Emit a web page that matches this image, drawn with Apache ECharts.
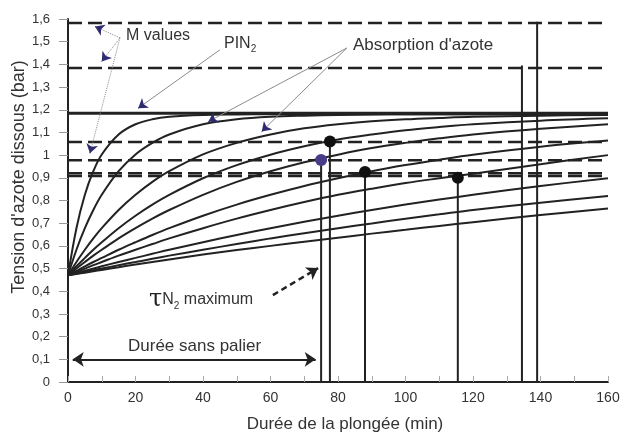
<!DOCTYPE html>
<html>
<head>
<meta charset="utf-8">
<script src="https://cdn.jsdelivr.net/npm/echarts@6/dist/echarts.min.js"></script>
<style>
  html, body { margin: 0; padding: 0; background: #fff; }
  #chart { width: 621px; height: 436px; }
</style>
</head>
<body>
<div id="chart"></div>
<script>
// temps (min) commun a toutes les courbes
const timeGrid = [0, 2.5, 5, 7.5, 10, 15, 20, 25, 30, 40, 50, 60, 70, 80, 90, 100, 110, 120, 140, 160];

// tension d'azote lue sur chaque courbe d'absorption (bar)
const c5   = [0.47, 0.678, 0.825, 0.929, 1.003, 1.091, 1.136, 1.158, 1.169, 1.177, 1.179, 1.18, 1.18, 1.18, 1.18, 1.18, 1.18, 1.18, 1.18, 1.18];
const c10  = [0.47, 0.583, 0.678, 0.758, 0.825, 0.929, 1.003, 1.054, 1.091, 1.136, 1.158, 1.169, 1.174, 1.177, 1.179, 1.18, 1.18, 1.18, 1.18, 1.18];
const c20  = [0.47, 0.529, 0.583, 0.633, 0.678, 0.758, 0.825, 0.882, 0.929, 1.003, 1.054, 1.091, 1.118, 1.136, 1.149, 1.158, 1.164, 1.169, 1.174, 1.177];
const c30  = [0.47, 0.510, 0.547, 0.583, 0.616, 0.678, 0.733, 0.782, 0.825, 0.898, 0.956, 1.002, 1.039, 1.069, 1.091, 1.110, 1.124, 1.136, 1.152, 1.162];
const c40  = [0.47, 0.500, 0.529, 0.557, 0.583, 0.633, 0.678, 0.720, 0.758, 0.825, 0.882, 0.929, 0.969, 1.002, 1.031, 1.054, 1.074, 1.091, 1.116, 1.136];
const c60  = [0.47, 0.490, 0.510, 0.529, 0.547, 0.583, 0.616, 0.648, 0.678, 0.733, 0.782, 0.825, 0.864, 0.898, 0.929, 0.956, 0.980, 1.002, 1.037, 1.064];
const c80  = [0.47, 0.485, 0.500, 0.515, 0.529, 0.557, 0.583, 0.608, 0.633, 0.678, 0.720, 0.758, 0.793, 0.825, 0.852, 0.877, 0.898, 0.918, 0.960, 1.0];
const c120 = [0.47, 0.480, 0.490, 0.500, 0.510, 0.529, 0.547, 0.565, 0.583, 0.616, 0.648, 0.678, 0.706, 0.733, 0.758, 0.782, 0.804, 0.825, 0.864, 0.898];
const c160 = [0.47, 0.478, 0.485, 0.493, 0.500, 0.515, 0.529, 0.543, 0.557, 0.583, 0.608, 0.633, 0.656, 0.678, 0.699, 0.720, 0.739, 0.758, 0.790, 0.820];
const c200 = [0.47, 0.476, 0.482, 0.488, 0.494, 0.506, 0.518, 0.529, 0.540, 0.562, 0.582, 0.600, 0.618, 0.636, 0.654, 0.671, 0.688, 0.704, 0.736, 0.765];
const curves = [c5, c10, c20, c30, c40, c60, c80, c120, c160, c200];

// M values (tirets) et PIN2 (trait plein)
const mValues = [1.582, 1.384, 1.058, 0.977, 0.92, 0.908];
const pin2 = 1.185;

// verticales : durees et hauteur atteinte
const verticalX   = [75, 77.6, 88, 115.5, 134.5, 139];
const verticalTop = [0.979, 1.06, 0.926, 0.9, 1.395, 1.588];

// points tau N2 maximum
const dotX = [75, 77.6, 88, 115.5];
const dotY = [0.979, 1.06, 0.926, 0.9];

// annotations (coordonnees du graphe)
const mArrowFrom = [15.4, 1.517];
const mArrowTo = [[8.0, 1.567], [10.0, 1.413], [6.5, 1.008]];
const pinArrowFrom = [45.0, 1.464];
const pinArrowTo = [[20.8, 1.207]];
const absArrowFrom = [82.6, 1.472];
const absArrowTo = [[41.6, 1.148], [57.4, 1.104]];
const tauArrow = [[60.7, 0.383], [74.1, 0.502]];
const palierArrow = [[1.4, 0.1], [73.4, 0.1]];

const ink = '#222';
const navy = '#2e2b6e';
const font = 'Liberation Sans, Arial, sans-serif';

const chart = echarts.init(document.getElementById('chart'));

function thinArrows(from, tos, type) {
    const lines = [], heads = [];
    tos.forEach(function (to) {
        lines.push([{coord: from}, {coord: to}]);
        const near = [to[0] - (to[0] - from[0]) * 0.04, to[1] - (to[1] - from[1]) * 0.04];
        heads.push([{coord: near}, {coord: to}]);
    });
    return [
        {type: 'line', data: [], silent: true, z: 5,
         markLine: {silent: true, animation: false, symbol: ['none', 'none'], label: {show: false},
                    lineStyle: {color: '#8c8c8c', width: 1, type: type}, data: lines}},
        {type: 'line', data: [], silent: true, z: 6,
         markLine: {silent: true, animation: false, symbol: ['none', 'arrow'], symbolSize: 9, label: {show: false},
                    lineStyle: {color: navy, width: 1, type: 'solid'}, data: heads}}
    ];
}

const series = [];

curves.forEach(function (vals) {
    series.push({
        type: 'line', smooth: 0.35, showSymbol: false, symbol: 'none',
        lineStyle: {color: ink, width: 2}, z: 2,
        data: timeGrid.map(function (t, i) { return [t, vals[i]]; })
    });
});

mValues.forEach(function (v) {
    series.push({
        type: 'line', symbol: 'none', z: 3,
        lineStyle: {color: ink, width: 2.5, type: [14, 6]},
        data: [[0, v], [160, v]]
    });
});

series.push({
    type: 'line', symbol: 'none', z: 3,
    lineStyle: {color: ink, width: 3},
    data: [[0, pin2], [160, pin2]]
});

verticalX.forEach(function (x, i) {
    series.push({
        type: 'line', symbol: 'none', z: 3,
        lineStyle: {color: ink, width: 2},
        data: [[x, 0], [x, verticalTop[i]]]
    });
});

series.push({
    type: 'scatter', symbolSize: 12, z: 10,
    data: dotX.map(function (x, i) {
        return {value: [x, dotY[i]], itemStyle: {color: i === 0 ? '#463c8a' : '#111', opacity: 1}};
    })
});

thinArrows(mArrowFrom, mArrowTo, 'dotted').forEach(function (s) { series.push(s); });
thinArrows(pinArrowFrom, pinArrowTo, 'solid').forEach(function (s) { series.push(s); });
thinArrows(absArrowFrom, absArrowTo, 'solid').forEach(function (s) { series.push(s); });

series.push({
    type: 'line', data: [], silent: true, z: 6,
    markLine: {silent: true, animation: false, symbol: ['none', 'arrow'], symbolSize: 11, label: {show: false},
               lineStyle: {color: ink, width: 2.5, type: [6, 4]},
               data: [[{coord: tauArrow[0]}, {coord: tauArrow[1]}]]}
});
series.push({
    type: 'line', data: [], silent: true, z: 6,
    markLine: {silent: true, animation: false, symbol: ['arrow', 'arrow'], symbolSize: 11, label: {show: false},
               lineStyle: {color: ink, width: 2, type: 'solid'},
               data: [[{coord: palierArrow[0]}, {coord: palierArrow[1]}]]}
});

const option = {
    animation: false,
    backgroundColor: '#fff',
    grid: {left: 68, right: 13, top: 19, bottom: 54, containLabel: false, outerBoundsMode: 'none'},
    xAxis: {
        type: 'value', min: 0, max: 160, interval: 20,
        axisLine: {show: true, onZero: false, lineStyle: {color: ink, width: 2}},
        axisTick: {show: true, inside: true, length: 6, lineStyle: {color: '#aaa'}},
        minorTick: {show: true, splitNumber: 2, length: 6, lineStyle: {color: '#aaa'}},
        splitLine: {show: false},
        axisLabel: {color: '#333', fontSize: 14, fontFamily: font, margin: 9, showMinLabel: true, showMaxLabel: true}
    },
    yAxis: {
        type: 'value', min: 0, max: 1.6, interval: 0.1,
        axisLine: {show: true, onZero: false, lineStyle: {color: ink, width: 2}},
        axisTick: {show: true, inside: false, length: 9, lineStyle: {color: '#999'}},
        splitLine: {show: false},
        axisLabel: {
            color: '#333', fontSize: 13, fontFamily: font, margin: 18, showMinLabel: true, showMaxLabel: true,
            formatter: function (v) { return v.toFixed(1).replace(/\.0$/, '').replace('.', ','); }
        }
    },
    graphic: [
        {type: 'text', x: 19, y: 177, rotation: Math.PI / 2, z: 20,
         style: {text: "Tension d'azote dissous (bar)", fill: '#333', font: '18px ' + font, align: 'center', verticalAlign: 'middle'}},
        {type: 'text', x: 345, y: 424, z: 20,
         style: {text: 'Durée de la plongée (min)', fill: '#333', font: '17px ' + font, align: 'center', verticalAlign: 'middle'}},
        {type: 'text', x: 126, y: 36, z: 20,
         style: {text: 'M values', fill: '#333', font: '16px ' + font, align: 'left', verticalAlign: 'middle'}},
        {type: 'text', x: 224, y: 44, z: 20,
         style: {text: '{a|PIN}{s|2}', align: 'left', verticalAlign: 'middle',
                 rich: {a: {fill: '#333', fontSize: 16, fontFamily: font, lineHeight: 20},
                        s: {fill: '#333', fontSize: 10, fontFamily: font, lineHeight: 10, verticalAlign: 'bottom'}}}},
        {type: 'text', x: 353, y: 45, z: 20,
         style: {text: "Absorption d'azote", fill: '#333', font: '17px ' + font, align: 'left', verticalAlign: 'middle'}},
        {type: 'text', x: 149, y: 300, z: 20,
         style: {text: '{t|τ}{a|N}{s|2}{a| maximum}', align: 'left', verticalAlign: 'middle',
                 rich: {t: {fill: '#222', fontSize: 24, fontFamily: 'DejaVu Serif, serif', lineHeight: 22},
                        a: {fill: '#333', fontSize: 16, fontFamily: font, lineHeight: 22},
                        s: {fill: '#333', fontSize: 10, fontFamily: font, lineHeight: 10, verticalAlign: 'bottom'}}}},
        {type: 'text', x: 128, y: 346, z: 20,
         style: {text: 'Durée sans palier', fill: '#333', font: '17px ' + font, align: 'left', verticalAlign: 'middle'}}
    ],
    series: series
};

chart.setOption(option);
</script>
</body>
</html>
